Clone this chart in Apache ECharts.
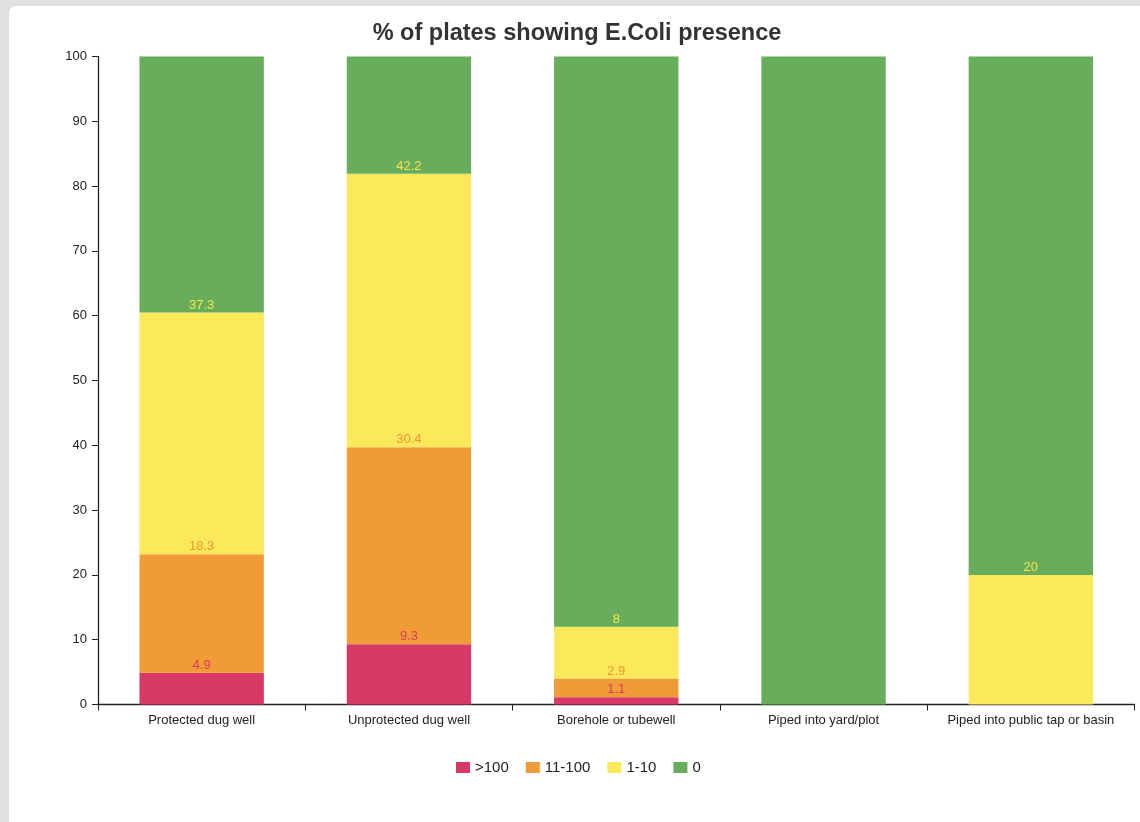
<!DOCTYPE html>
<html>
<head>
<meta charset="utf-8">
<script src="https://cdn.jsdelivr.net/npm/echarts@6/dist/echarts.min.js"></script>
<style>
  html, body { margin: 0; padding: 0; background: #e0e0e0; width: 1140px; height: 822px; overflow: hidden; }
  #panel { position: absolute; left: 9px; top: 6px; width: 1200px; height: 900px; background: #fff; border-radius: 7px; }
  #chart { position: absolute; left: 0; top: 0; width: 1140px; height: 822px; }
</style>
</head>
<body>
<div id="panel"></div>
<div id="chart"></div>
<script>
const categories = ['Protected dug well', 'Unprotected dug well', 'Borehole or tubewell', 'Piped into yard/plot', 'Piped into public tap or basin'];
const over100 = [4.9, 9.3, 1.1, 0, 0];
const from11to100 = [18.3, 30.4, 2.9, 0, 0];
const from1to10 = [37.3, 42.2, 8, 0, 20];
const zero = [39.5, 18.1, 88, 100, 80];
const seriesNames = ['>100', '11-100', '1-10', '0'];
const yTicks = [0, 10, 20, 30, 40, 50, 60, 70, 80, 90, 100];

const colors = ['#d83865', '#f09b37', '#fbe85b', '#67ad5b'];
const labelColors = ['#d6405a', '#f0982f', '#f6e34f', null];
const font = '"Liberation Sans", Arial, Helvetica, sans-serif';

function mkSeries(name, data, i) {
  return {
    name: name,
    type: 'bar',
    stack: 'total',
    data: data,
    barWidth: '60%',
    itemStyle: { color: colors[i] },
    emphasis: { disabled: true },
    label: {
      show: labelColors[i] !== null,
      position: 'top',
      distance: 1,
      color: labelColors[i],
      fontSize: 13,
      fontFamily: font,
      formatter: function (p) { return p.value === 0 ? '' : String(p.value); }
    }
  };
}

const chart = echarts.init(document.getElementById('chart'), null, { renderer: 'canvas' });
chart.setOption({
  backgroundColor: 'transparent',
  animation: false,
  title: {
    text: '% of plates showing E.Coli presence',
    left: 572,
    textAlign: 'center',
    top: 17,
    textStyle: { fontSize: 23.5, fontWeight: 'bold', color: '#333', fontFamily: font }
  },
  legend: {
    data: seriesNames,
    left: 451,
    top: 755,
    icon: 'rect',
    itemWidth: 14,
    itemHeight: 11,
    itemGap: 17,
    textStyle: { fontSize: 15, color: '#222', fontFamily: font }
  },
  grid: { left: 98, right: 5.5, top: 56.5, bottom: 117.5, containLabel: false },
  xAxis: {
    type: 'category',
    data: categories,
    axisLine: { lineStyle: { color: '#222', width: 1.3 } },
    axisTick: { show: true, length: 6, alignWithLabel: false, lineStyle: { color: '#222' } },
    axisLabel: { fontSize: 13, color: '#222', margin: 9, fontFamily: font, interval: 0 }
  },
  yAxis: {
    type: 'value',
    min: yTicks[0],
    max: yTicks[yTicks.length - 1],
    interval: yTicks[1] - yTicks[0],
    axisLine: { show: true, lineStyle: { color: '#222', width: 1.3 } },
    axisTick: { show: true, length: 6, lineStyle: { color: '#222' } },
    axisLabel: { fontSize: 13, color: '#222', margin: 11, fontFamily: font },
    splitLine: { show: false }
  },
  series: [
    mkSeries(seriesNames[0], over100, 0),
    mkSeries(seriesNames[1], from11to100, 1),
    mkSeries(seriesNames[2], from1to10, 2),
    mkSeries(seriesNames[3], zero, 3)
  ]
});
</script>
</body>
</html>
